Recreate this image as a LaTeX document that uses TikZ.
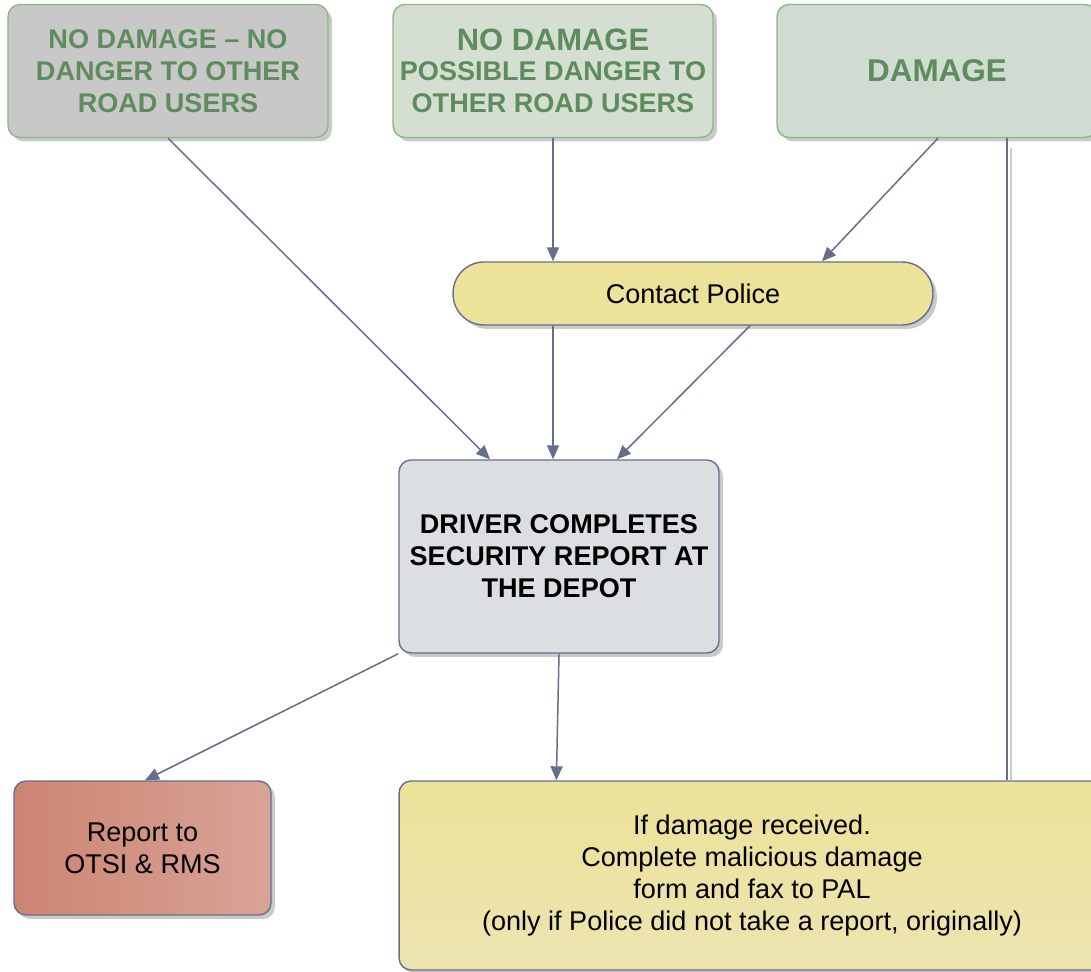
\documentclass[tikz,border=0pt]{standalone}
\usepackage{fontspec}
\setmainfont{Liberation Sans}
\usepackage{tikz}
\usetikzlibrary{arrows.meta,positioning,calc,shadows}
\definecolor{linec}{RGB}{102,110,140}
\definecolor{grtext}{RGB}{94,140,94}
\definecolor{grbord}{RGB}{140,182,134}
\definecolor{grayfill}{RGB}{200,200,200}
\definecolor{ngfill}{RGB}{212,223,210}
\definecolor{dmgfill}{RGB}{208,219,209}
\definecolor{yelfill}{RGB}{236,226,153}
\definecolor{yelfill2}{RGB}{236,228,176}
\definecolor{drvfill}{RGB}{220,223,226}
\definecolor{repfill}{RGB}{205,132,114}
\definecolor{repfill2}{RGB}{216,164,150}
\newcommand{\txt}{\fontsize{15.4}{18.2}\selectfont}
\tikzset{
  >={Triangle[length=0.28cm,width=0.24cm]},
  box/.style={rectangle, rounded corners=0.24cm, align=center, inner sep=0pt,
    line width=0.8pt, font=\txt,
    drop shadow={shadow xshift=0.08cm, shadow yshift=-0.08cm, fill=black!35, opacity=0.6}},
  topbox/.style={box, draw=grbord, text=grtext, font=\txt\bfseries,
    minimum width=6.4cm, minimum height=2.66cm},
  flowbox/.style={box, draw=linec, text=black},
  tr/.style={->, draw=linec, line width=0.85pt},
  ln/.style={draw=linec, line width=0.85pt}
}
\begin{document}
\begin{tikzpicture}[x=0.02cm, y=-0.02cm]
    \useasboundingbox (0,0) rectangle (1091,972);

    % Incident types
    \node[topbox, fill=grayfill] (nodmg) at (168,71)
      {NO DAMAGE – NO\\DANGER TO OTHER\\ROAD USERS};
    \node[topbox, fill=ngfill] (nodng) at (553,71)
      {{\fontsize{17.6}{20}\selectfont NO DAMAGE}\\[-1pt]POSSIBLE DANGER TO\\OTHER ROAD USERS};
    \node[topbox, fill=dmgfill, minimum width=6.4cm] (dmg) at (937,71)
      {\fontsize{17.9}{20}\selectfont\bfseries DAMAGE};

    % Police
    \node[flowbox, fill=yelfill, rounded corners=0.62cm,
      minimum width=9.6cm, minimum height=1.26cm] (police) at (693,293.5) {Contact Police};

    % Depot report
    \node[flowbox, fill=drvfill, font=\txt\bfseries,
      minimum width=6.4cm, minimum height=3.86cm] (driver) at (559,556.5)
      {DRIVER COMPLETES\\SECURITY REPORT AT\\THE DEPOT};

    % Follow-up
    \node[flowbox, left color=repfill, right color=repfill2,
      minimum width=5.14cm, minimum height=2.68cm] (report) at (142.5,848)
      {Report to\\OTSI \& RMS};
    \node[flowbox, top color=yelfill, bottom color=yelfill2,
      minimum width=14.12cm, minimum height=3.78cm] (pal) at (752,875.5)
      {If damage received.\\Complete malicious damage\\form and fax to PAL\\(only if Police did not take a report, originally)};

    % Connectors
    \draw[tr] (nodmg.south) -- ([xshift=-1.38cm]driver.north);
    \draw[tr] (nodng.south) -- (nodng.south |- police.north);
    \draw[tr] ([xshift=0.02cm]dmg.south) -- ([xshift=2.58cm]police.north);
    \draw[tr] ([xshift=-2.8cm]police.south) -- ([xshift=-2.8cm]police.south |- driver.north);
    \draw[tr] ([xshift=1.14cm]police.south) -- ([xshift=1.16cm]driver.north);
    \draw[tr] (driver.south west) -- ([xshift=0.05cm]report.north);
    \draw[tr] (driver.south) -- ([xshift=3.16cm]pal.north west);
    \draw[black!20, line width=1.2pt] ([xshift=1.48cm, yshift=-0.2cm]dmg.south) -- ([xshift=1.48cm]dmg.south |- pal.north);
    \draw[ln] ([xshift=1.4cm]dmg.south) -- ([xshift=1.4cm]dmg.south |- pal.north);
\end{tikzpicture}
\end{document}
